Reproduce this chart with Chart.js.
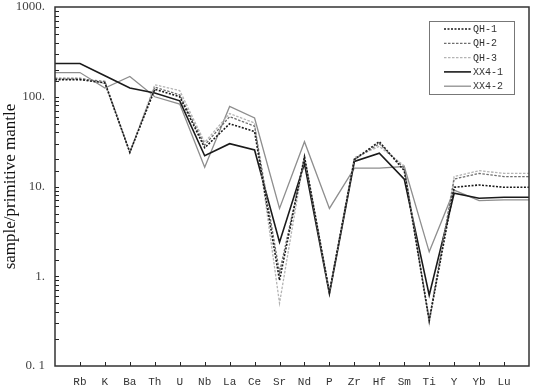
<!DOCTYPE html>
<html>
<head>
<meta charset="utf-8">
<script src="https://cdn.jsdelivr.net/npm/chart.js@4/dist/chart.umd.min.js"></script>
<style>
  html, body { margin: 0; padding: 0; background: #fff; }
  #wrap { width: 533px; height: 387px; }
</style>
</head>
<body>
<div id="wrap"><canvas id="spider"></canvas></div>
<script>
// elementos (spider diagram normalizado ao manto primitivo)
const elementos = ['Rb', 'K', 'Ba', 'Th', 'U', 'Nb', 'La', 'Ce', 'Sr', 'Nd', 'P', 'Zr', 'Hf', 'Sm', 'Ti', 'Y', 'Yb', 'Lu'];

const qh1 = [155, 143, 24, 121, 100, 27, 50, 41, 0.9, 21.5, 0.66, 20, 31.6, 15, 0.32, 9.8, 10.4, 9.8];
const qh2 = [158, 148, 24, 128, 105, 29, 60, 47, 1.1, 20.6, 0.66, 20, 30, 16, 0.33, 12.1, 14, 12.9];
const qh3 = [162, 140, 24, 136, 117, 31, 65, 51, 0.5, 22, 0.66, 21, 28, 17, 0.3, 12.9, 15, 14];
const xx41 = [235, 171, 125, 110, 90, 22, 30, 25.5, 2.4, 18, 0.64, 19, 23.5, 12.1, 0.615, 8.4, 7.4, 7.6];
const xx42 = [186, 125, 168, 100, 83, 16.4, 78, 58, 5.7, 31.6, 5.7, 16, 16, 16.7, 1.87, 9.1, 6.95, 7.1];

const yMin = 0.1;
const yMax = 1000;

// linhas prolongadas até as bordas do gráfico (primeiro e último valor)
function pontos(valores) {
  const pts = valores.map((v, i) => ({ x: i, y: v }));
  pts.unshift({ x: -1, y: valores[0] });
  pts.push({ x: elementos.length, y: valores[valores.length - 1] });
  return pts;
}

const series = [
  { label: 'QH-1', data: qh1, color: '#1a1a1a', dash: [2, 1.5], width: 1.6 },
  { label: 'QH-2', data: qh2, color: '#6e6e6e', dash: [2.5, 1.5], width: 1.3 },
  { label: 'QH-3', data: qh3, color: '#b4b4b4', dash: [2.5, 1.5], width: 1.3 },
  { label: 'XX4-1', data: xx41, color: '#1a1a1a', dash: [], width: 1.6 },
  { label: 'XX4-2', data: xx42, color: '#8e8e8e', dash: [], width: 1.3 }
];

// caixa, marcas internas e legenda
const molduraPlugin = {
  id: 'moldura',
  afterDraw(chart) {
    const ctx = chart.ctx;
    const a = chart.chartArea;
    const xs = chart.scales.x;
    const ys = chart.scales.y;
    ctx.save();
    ctx.strokeStyle = '#222';
    ctx.lineWidth = 1;
    ys.ticks.forEach(t => {
      const y = Math.round(ys.getPixelForValue(t.value)) + 0.5;
      if (y <= a.top + 1 || y >= a.bottom - 1) return;
      ctx.beginPath();
      ctx.moveTo(a.left, y);
      ctx.lineTo(a.left + 4, y);
      ctx.stroke();
    });
    for (let i = 0; i < elementos.length; i++) {
      const x = Math.round(xs.getPixelForValue(i)) + 0.5;
      ctx.beginPath();
      ctx.moveTo(x, a.bottom);
      ctx.lineTo(x, a.bottom - 4);
      ctx.stroke();
    }
    ctx.lineWidth = 1.5;
    ctx.strokeStyle = '#333';
    ctx.strokeRect(a.left, a.top, a.right - a.left, a.bottom - a.top);

    // legenda
    const lx = 429, ly = 21, lw = 85, lh = 73;
    ctx.fillStyle = '#fff';
    ctx.fillRect(lx, ly, lw, lh);
    ctx.lineWidth = 1;
    ctx.strokeStyle = '#777';
    ctx.strokeRect(lx + 0.5, ly + 0.5, lw, lh);
    ctx.font = '10px "Liberation Mono"';
    ctx.textBaseline = 'middle';
    ctx.textAlign = 'left';
    series.forEach((s, i) => {
      const y = ly + 8 + i * 14.3;
      ctx.beginPath();
      ctx.setLineDash(s.dash);
      ctx.strokeStyle = s.color;
      ctx.lineWidth = s.width;
      ctx.moveTo(lx + 15, y);
      ctx.lineTo(lx + 42, y);
      ctx.stroke();
      ctx.setLineDash([]);
      ctx.fillStyle = '#333';
      ctx.fillText(s.label, lx + 44, y + 0.5);
    });
    ctx.restore();
  }
};

const ctx = document.getElementById('spider').getContext('2d');
new Chart(ctx, {
  type: 'line',
  data: {
    datasets: series.map(s => ({
      label: s.label,
      data: pontos(s.data),
      borderColor: s.color,
      borderDash: s.dash,
      borderWidth: s.width,
      pointRadius: 0,
      fill: false,
      tension: 0
    }))
  },
  options: {
    responsive: true,
    maintainAspectRatio: false,
    animation: false,
    layout: { padding: { top: 7, right: 4, left: 0, bottom: 0 } },
    plugins: {
      legend: { display: false },
      tooltip: { enabled: false }
    },
    scales: {
      x: {
        type: 'linear',
        min: -1,
        max: elementos.length,
        grid: { display: false, drawTicks: false },
        border: { display: false },
        afterBuildTicks: s => {
          s.ticks = [];
          for (let i = -1; i <= elementos.length; i++) s.ticks.push({ value: i });
        },
        afterFit: s => {
          s.height = 21;
          s.paddingLeft = 0;
          s.paddingRight = 0;
        },
        ticks: {
          autoSkip: false,
          maxRotation: 0,
          padding: 9,
          color: '#333',
          font: { family: '"Liberation Mono"', size: 11 },
          callback: v => elementos[v] || ''
        }
      },
      y: {
        type: 'logarithmic',
        min: yMin,
        max: yMax,
        grid: { display: false, drawTicks: false },
        border: { display: false },
        afterFit: s => {
          s.width = 55;
          s.paddingTop = 0;
          s.paddingBottom = 0;
        },
        title: {
          display: true,
          text: 'sample/primitive mantle',
          color: '#111',
          padding: { top: 0, bottom: 4 },
          font: { family: '"Liberation Serif"', size: 17 }
        },
        ticks: {
          autoSkip: false,
          padding: 10,
          color: '#444',
          font: { family: '"Liberation Serif"', size: 13 },
          callback: v => {
            const l = Math.log10(v);
            if (Math.abs(l - Math.round(l)) > 1e-6) return '';
            if (v < 1) return '0. 1';
            return Math.round(v) + '.';
          }
        }
      }
    }
  },
  plugins: [molduraPlugin]
});
</script>
</body>
</html>
